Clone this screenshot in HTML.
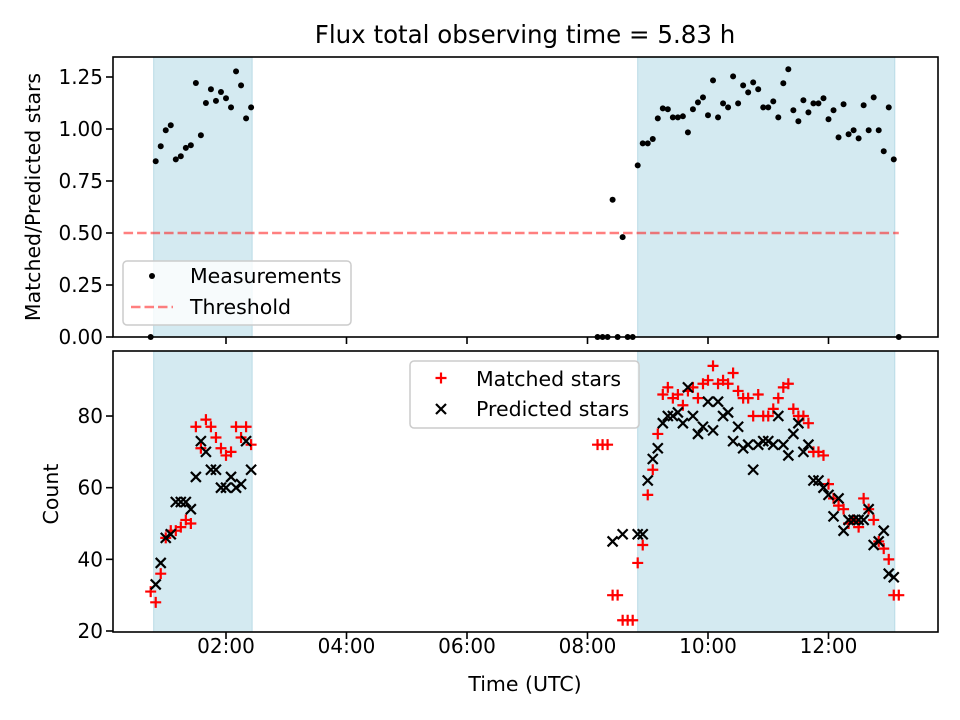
<!DOCTYPE html>
<html><head><meta charset="utf-8">
<style>
html,body{margin:0;padding:0;background:#fff;}
svg{display:block;font-family:"DejaVu Sans","Liberation Sans",sans-serif;}
</style></head>
<body>
<svg id="chart" width="960" height="720" viewBox="0 0 960 720">
  <text x="525" y="43" font-size="24.5" text-anchor="middle">Flux total observing time = 5.83 h</text>
  <g id="top-panel"></g>
  <g id="bottom-panel"></g>
</svg>
<script>
// ---- data ----
const times = ["0:45","0:50","0:55","1:00","1:05","1:10","1:15","1:20","1:25","1:30","1:35","1:40","1:45","1:50","1:55","2:00","2:05","2:10","2:15","2:20","2:25",
"8:10","8:15","8:20","8:25","8:30","8:35","8:40","8:45",
"8:50","8:55","9:00","9:05","9:10","9:15","9:20","9:25","9:30","9:35","9:40","9:45","9:50","9:55","10:00","10:05","10:10","10:15","10:20","10:25","10:30","10:35","10:40","10:45","10:50","10:55","11:00","11:05","11:10","11:15","11:20","11:25","11:30","11:35","11:40","11:45","11:50","11:55","12:00","12:05","12:10","12:15","12:20","12:25","12:30","12:35","12:40","12:45","12:50","12:55","13:00","13:05","13:10"];
const ratio = [0,0.845,0.917,0.994,1.018,0.854,0.869,0.909,0.922,1.221,0.970,1.125,1.191,1.135,1.178,1.148,1.104,1.277,1.21,1.051,1.104,
0,0,0,0.66,0,0.48,0,0,
0.825,0.931,0.931,0.952,1.051,1.099,1.095,1.056,1.056,1.061,0.984,1.095,1.128,1.152,1.066,1.234,1.056,1.123,1.104,1.253,1.123,1.21,1.176,1.224,1.191,1.104,1.104,1.133,1.056,1.22,1.287,1.09,1.037,1.138,1.08,1.123,1.123,1.148,1.047,1.09,0.96,1.119,0.975,0.994,0.955,1.114,0.994,1.152,0.994,0.893,1.104,0.854,0];
const matched = [31,28,36,46,48,48,49,51,50,77,71,79,77,74,71,69,70,77,74,77,72,
72,72,72,30,30,23,23,23,
39,44,58,65,75,86,88,85,86,83,87,88,85,89,90,94,89,90,89,92,87,85,85,80,86,80,80,82,85,88,89,82,80,80,78,70,70,69,61,57,55,54,50,51,49,57,54,51,45,43,40,30,30];
const predicted = [null,33,39,46,47,56,56,56,54,63,73,70,65,65,60,60,63,60,61,73,65,
null,null,null,45,null,47,null,null,
47,47,62,68,71,78,80,80,81,78,88,80,75,77,84,76,84,80,81,73,77,71,72,65,72,73,73,72,80,72,69,75,78,70,72,62,62,60,58,52,57,48,51,51,51,51,54,44,45,48,36,35,null];
const shadeSpans = [["0:48","2:26"],["8:50","13:06"]];
const thresholdValue = 0.5;
const thresholdSpan = ["0:18","13:10"];
const xTicks = ["02:00","04:00","06:00","08:00","10:00","12:00"];
const topYTicks = [0,0.25,0.5,0.75,1.0,1.25];
const bottomYTicks = [20,40,60,80];

// ---- scales ----
const L=113,R=938;
const TT=57,TB=337, BT=351,BB=632;
function hrs(s){const p=s.split(":");return +p[0]+ +p[1]/60;}
function X(t){return 226+(t-2)*60.25;}
function Ytop(v){return 337-v*208;}
function Ybot(v){return 631-(v-20)*3.583;}
const NS="http://www.w3.org/2000/svg";
function mk(tag,attrs,parent){const e=document.createElementNS(NS,tag);for(const k in attrs)e.setAttribute(k,attrs[k]);parent.appendChild(e);return e;}
const topG=document.getElementById('top-panel');
const botG=document.getElementById('bottom-panel');

function panel(g,yT,yB,yTicks,yf,fmt,labels){
  shadeSpans.forEach(sp=>{
    const r=mk('rect',{x:X(hrs(sp[0])),y:yT,width:X(hrs(sp[1]))-X(hrs(sp[0])),height:yB-yT,fill:'#d4eaf1',stroke:'#b9dbe6','stroke-width':1},g);
    
    
  });
  xTicks.forEach(tk=>{
    const x=X(hrs(tk));
    const l=mk('line',{x1:x,x2:x,y1:yB,y2:yB+7,stroke:'#000','stroke-width':1.6},g);
    
    
    if(labels){
      const t=mk('text',{x:x,y:yB+21,'font-size':20,'text-anchor':'middle'},g);
      t.textContent=tk;
      
      
    }
  });
  yTicks.forEach(v=>{
    const y=yf(v);
    const l=mk('line',{x1:L-7,x2:L,y1:y,y2:y,stroke:'#000','stroke-width':1.6},g);
    
    
    const t=mk('text',{x:L-10,y:y+7,'font-size':20,'text-anchor':'end'},g);
    t.textContent=fmt(v);
    
    
  });
}
panel(topG,TT,TB,topYTicks,Ytop,v=>v.toFixed(2),false);
panel(botG,BT,BB,bottomYTicks,Ybot,v=>String(v),true);

// threshold
const th=mk('line',{x1:X(hrs(thresholdSpan[0])),x2:X(hrs(thresholdSpan[1])),y1:Ytop(thresholdValue),y2:Ytop(thresholdValue),stroke:'#ff0000','stroke-opacity':0.5,'stroke-width':2.5,'stroke-dasharray':'9.5,4'},topG);



// ratio points
times.forEach((tm,i)=>{
  const c=mk('circle',{cx:X(hrs(tm)),cy:Ytop(ratio[i]),r:3,fill:'#000'},topG);
  
  
});
// counts
times.forEach((tm,i)=>{
  const x=X(hrs(tm));
  if(matched[i]!=null){
    const y=Ybot(matched[i]);
    const p=mk('path',{d:`M${x-5.5},${y}H${x+5.5}M${x},${y-5.5}V${y+5.5}`,stroke:'#ff0000','stroke-width':2.2,fill:'none'},botG);
    
    
  }
});
times.forEach((tm,i)=>{
  const x=X(hrs(tm));
  if(predicted[i]!=null){
    const y=Ybot(predicted[i]);
    const p=mk('path',{d:`M${x-5},${y-5}L${x+5},${y+5}M${x-5},${y+5}L${x+5},${y-5}`,stroke:'#000','stroke-width':2.2,fill:'none'},botG);
    
    
  }
});
</script>
<svg width="960" height="720" viewBox="0 0 960 720" style="position:absolute;left:0;top:0;font-family:'DejaVu Sans','Liberation Sans',sans-serif;">
  <rect x="113" y="57" width="825" height="280" fill="none" stroke="#000" stroke-width="1.6"/>
  <rect x="113" y="351" width="825" height="281" fill="none" stroke="#000" stroke-width="1.6"/>
  <text transform="translate(40,197) rotate(-90)" font-size="20.5" text-anchor="middle">Matched/Predicted stars</text>
  <text transform="translate(58,494) rotate(-90)" font-size="20.5" text-anchor="middle">Count</text>
  <text x="525" y="691" font-size="20.5" text-anchor="middle">Time (UTC)</text>
  <g>
    <rect x="123" y="261" width="228" height="64" rx="4" fill="#fff" fill-opacity="0.8" stroke="#cccccc" stroke-width="1.5"/>
    <circle cx="152" cy="276" r="3" fill="#000"/>
    <text x="190" y="283" font-size="20.5">Measurements</text>
    <line x1="131" x2="173" y1="307" y2="307" stroke="#ff0000" stroke-opacity="0.5" stroke-width="2.5" stroke-dasharray="9.5,4"/>
    <text x="190" y="314" font-size="20.5">Threshold</text>
  </g>
  <g>
    <rect x="410" y="361" width="229" height="67" rx="4" fill="#fff" fill-opacity="0.8" stroke="#cccccc" stroke-width="1.5"/>
    <path d="M435.5,378H446.5M441,372.5V383.5" stroke="#ff0000" stroke-width="2.2"/>
    <text x="476" y="386" font-size="20.5">Matched stars</text>
    <path d="M436,404L446,414M436,414L446,404" stroke="#000" stroke-width="2.2"/>
    <text x="476" y="416" font-size="20.5">Predicted stars</text>
  </g>
</svg>
</body></html>
